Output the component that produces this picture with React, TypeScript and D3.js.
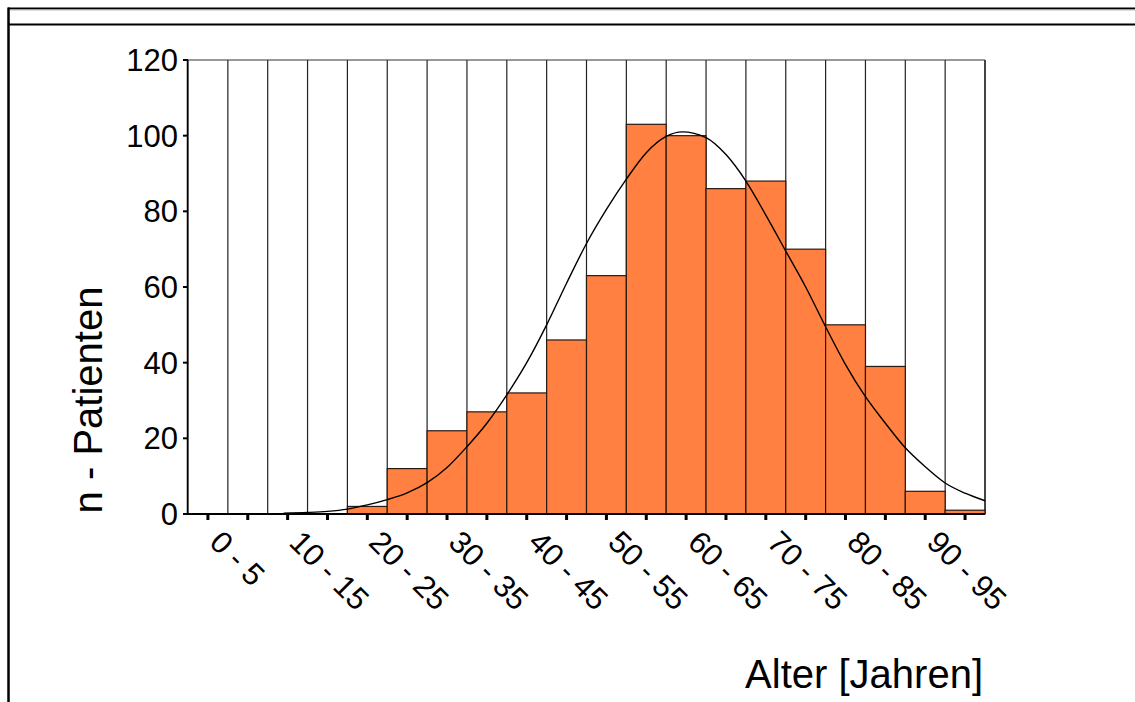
import * as d3 from 'd3';
import React, { useRef, useEffect } from 'react';

// age bins (5 years each), counts of patients per bin
const binStarts = [0, 5, 10, 15, 20, 25, 30, 35, 40, 45, 50, 55, 60, 65, 70, 75, 80, 85, 90, 95];
const counts = [0, 0, 0, 0, 2, 12, 22, 27, 32, 46, 63, 103, 100, 86, 88, 70, 50, 39, 6, 1];
const tickLabels = ["0 - 5", "10 - 15", "20 - 25", "30 - 35", "40 - 45", "50 - 55", "60 - 65", "70 - 75", "80 - 85", "90 - 95"];
const yTicks = [0, 20, 40, 60, 80, 100, 120];

// fitted normal curve (age, n)
const curveAges = [12, 15, 17.5, 20, 22.5, 25, 27.5, 30, 32.5, 35, 37.5, 40, 42.5, 45, 47.5, 50, 52.5, 55, 57.5, 60, 62, 65, 67.5, 70, 72.5, 75, 77.5, 80, 82.5, 85, 87.5, 90, 92.5, 95, 97.5, 100];
const curveValues = [0.2, 0.4, 0.7, 1.3, 2.4, 3.8, 5.6, 8.3, 12.3, 17.8, 24, 31.5, 40, 50, 61, 71.5, 80.5, 88.5, 95.5, 99.8, 101, 99.5, 95, 88, 79, 69.5, 60, 49.5, 39.5, 31, 24, 17.5, 12.5, 8.2, 5.5, 3.5];

function Histogram({ width, height }: { width: number; height: number }) {
    const ref = useRef<SVGSVGElement>(null);

    useEffect(() => {
        const svg = d3.select(ref.current);
        svg.selectAll('*').remove();
        draw();
    }, []);

    const draw = () => {
        const left = 188, right = 985, top = 60, bottom = 514;
        const font = "'Liberation Sans', Arial, sans-serif";
        const binWidth = 5;

        const x = d3.scaleLinear().domain([0, 100]).range([left, right]);
        const y = d3.scaleLinear().domain([0, 120]).range([bottom, top]);

        const svg = d3.select(ref.current);
        svg.attr('width', width).attr('height', height);

        svg.append('rect').attr('width', width).attr('height', height).attr('fill', '#fff');

        // outer frame
        svg.append('line').attr('x1', 8).attr('x2', width).attr('y1', 8.5).attr('y2', 8.5)
            .attr('stroke', '#000').attr('stroke-width', 2.2);
        svg.append('line').attr('x1', 9).attr('x2', width).attr('y1', 10).attr('y2', 10)
            .attr('stroke', '#bbb').attr('stroke-width', 1);
        svg.append('line').attr('x1', 8).attr('x2', width).attr('y1', 24.5).attr('y2', 24.5)
            .attr('stroke', '#000').attr('stroke-width', 2.2);
        svg.append('line').attr('x1', 8.5).attr('x2', 8.5).attr('y1', 7.5).attr('y2', height)
            .attr('stroke', '#000').attr('stroke-width', 2.5);

        // vertical grid at bin edges
        const edges = binStarts.concat([100]);
        svg.append('g').selectAll('line')
            .data(edges)
            .enter()
            .append('line')
            .attr('x1', d => x(d)).attr('x2', d => x(d))
            .attr('y1', top).attr('y2', bottom)
            .attr('stroke', '#222').attr('stroke-width', 1.2);
        svg.append('line').attr('x1', left).attr('x2', right).attr('y1', top).attr('y2', top)
            .attr('stroke', '#333').attr('stroke-width', 1.2);
        svg.append('line').attr('x1', right).attr('x2', right).attr('y1', top).attr('y2', bottom)
            .attr('stroke', '#444').attr('stroke-width', 2);

        // bars
        svg.append('g').selectAll('rect')
            .data(binStarts.filter((d, i) => counts[i] > 0))
            .enter()
            .append('rect')
            .attr('x', d => x(d))
            .attr('y', d => y(counts[binStarts.indexOf(d)]))
            .attr('width', x(binWidth) - x(0))
            .attr('height', d => bottom - y(counts[binStarts.indexOf(d)]))
            .attr('fill', '#ff8040')
            .attr('stroke', '#2a1a10')
            .attr('stroke-width', 1.2);

        // normal curve
        const line = d3.line<number>()
            .x((d, i) => x(curveAges[i]))
            .y(d => y(d))
            .curve(d3.curveMonotoneX);
        svg.append('path')
            .attr('d', line(curveValues))
            .attr('fill', 'none')
            .attr('stroke', '#000')
            .attr('stroke-width', 1.4);

        // y axis
        svg.append('line').attr('x1', left - 0.5).attr('x2', left - 0.5).attr('y1', top).attr('y2', bottom)
            .attr('stroke', '#000').attr('stroke-width', 1.5);
        const yt = svg.append('g').selectAll('g').data(yTicks).enter().append('g');
        yt.append('line')
            .attr('x1', left - 5).attr('x2', left)
            .attr('y1', d => y(d)).attr('y2', d => y(d))
            .attr('stroke', '#000').attr('stroke-width', 2);
        yt.append('text')
            .text(d => d)
            .attr('x', 178)
            .attr('y', d => y(d))
            .attr('dy', '0.36em')
            .attr('text-anchor', 'end')
            .attr('font-family', font)
            .attr('font-size', '31px')
            .attr('fill', '#000');

        // x axis
        svg.append('line').attr('x1', left - 5).attr('x2', right).attr('y1', bottom).attr('y2', bottom)
            .attr('stroke', '#000').attr('stroke-width', 2.2);
        svg.append('g').selectAll('line')
            .data(binStarts)
            .enter()
            .append('line')
            .attr('x1', d => x(d + binWidth / 2)).attr('x2', d => x(d + binWidth / 2))
            .attr('y1', bottom).attr('y2', bottom + 6)
            .attr('stroke', '#000').attr('stroke-width', 3);
        svg.append('g').selectAll('text')
            .data(tickLabels)
            .enter()
            .append('text')
            .text(d => d)
            .attr('transform', (d, i) => 'translate(' + x(i * 10 + binWidth / 2) + ',' + (bottom + 30) + ') rotate(45)')
            .attr('font-family', font)
            .attr('font-size', '31px')
            .attr('fill', '#000');

        // axis titles
        svg.append('text')
            .text('Alter [Jahren]')
            .attr('x', 983)
            .attr('y', 688)
            .attr('text-anchor', 'end')
            .attr('font-family', font)
            .attr('font-size', '40px')
            .attr('fill', '#000');
        svg.append('text')
            .text('n - Patienten')
            .attr('transform', 'translate(102,400) rotate(-90)')
            .attr('text-anchor', 'middle')
            .attr('font-family', font)
            .attr('font-size', '40px')
            .attr('fill', '#000');
    }

    return (
        <svg ref={ref} style={{ position: 'absolute', left: 0, top: 0, display: 'block' }}></svg>
    )
}

export default function App() {
    return <Histogram width={1135} height={702} />;
}
